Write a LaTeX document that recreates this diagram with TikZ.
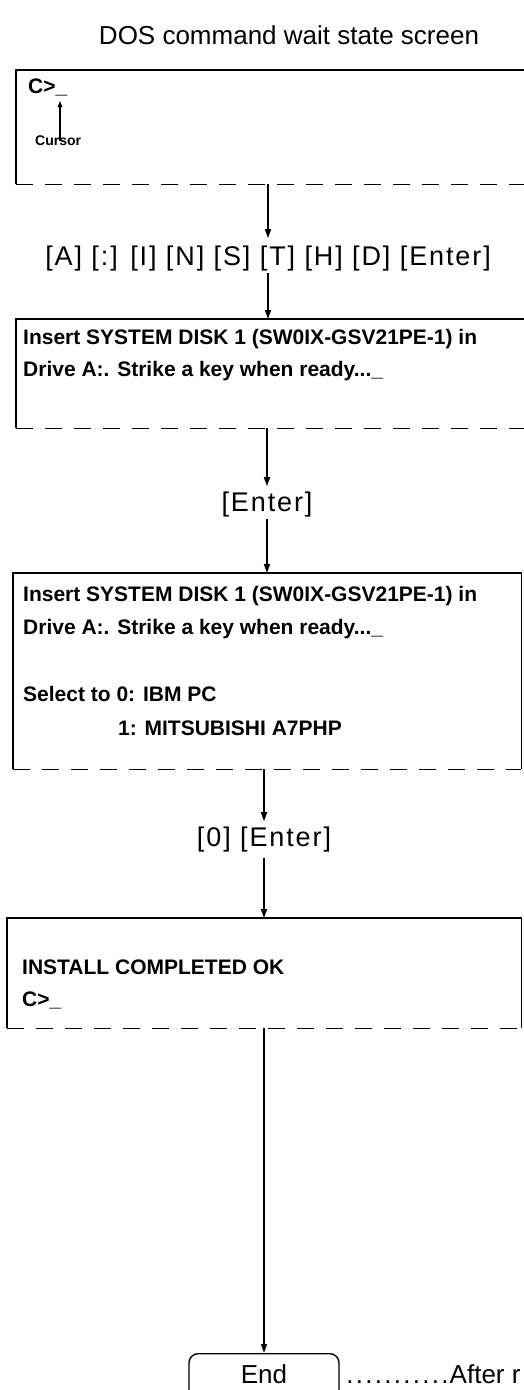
\documentclass[tikz,border=0pt]{standalone}
\usepackage{fontspec}
\setmainfont{Liberation Sans}
\newfontfamily\keyfont[LetterSpace=7]{Liberation Sans}
\usetikzlibrary{arrows.meta,calc}
\newcommand\mydotbox{\makebox[9.5pt][c]{.}}
\begin{document}
\begin{tikzpicture}[x=1pt,y=-1pt,
  scrbox/.style={draw=none, inner sep=0pt, anchor=north west},
  scrline/.style={line width=1.8pt},
  scrdash/.style={line width=1.6pt, dash pattern=on 17pt off 12pt},
  arr/.style={line width=1.6pt, -{Triangle[length=9pt,width=6pt]}},
  lab/.style={font=\fontsize{26}{30}\selectfont, inner sep=0pt, anchor=base},
  keylab/.style={font=\keyfont\fontsize{27}{30}\selectfont, inner sep=0pt, anchor=base},
  txt/.style={font=\bfseries\fontsize{21}{25}\selectfont, inner sep=0pt, anchor=base west},
]
\useasboundingbox (0,0) rectangle (524,1390);

% title
\node[lab] (title) at (289,44) {DOS command wait state screen};

% screen 1
\node[scrbox, minimum width=520pt, minimum height=114pt] (s1) at (16,70) {};
\draw[scrline] (s1.south west) -- (s1.north west) -- (s1.north east);
\draw[scrdash] (s1.south west) -- (s1.south east);
\node[txt] (c1) at (28,93) {C>\_};
\node[font=\bfseries\fontsize{14}{16}\selectfont, inner sep=0pt, anchor=base west] (cur) at (35,145) {Cursor};
\coordinate (curtip) at (60,101);
\draw[line width=1.1pt, -{Triangle[length=6pt,width=4.5pt]}] ([yshift=-6pt]cur.north -| curtip) -- (curtip);

% key label 1
\node[keylab] (k1) at (268,265) {[A] [:] [I] [N] [S] [T] [H] [D] [Enter]};
\draw[arr, shorten >=7pt] (k1.north |- s1.south) -- (k1.north);

% screen 2
\node[scrbox, minimum width=520pt, minimum height=109pt] (s2) at (16,319) {};
\draw[scrline] (s2.south west) -- (s2.north west) -- (s2.north east);
\draw[scrdash] (s2.south west) -- (s2.south east);
\draw[arr, shorten <=2pt] (k1.south) -- (k1.south |- s2.north);
\node[txt] (t21) at (23,344) {Insert SYSTEM DISK 1 (SW0IX-GSV21PE-1) in};
\node[txt] (t22) at (23,376) {Drive A:. Strike a key when ready...\_};

% key label 2
\node[keylab] (k2) at (267,511) {[Enter]};
\draw[arr, shorten >=5pt] (k2.north |- s2.south) -- (k2.north);

% screen 3
\node[scrbox, minimum width=508pt, minimum height=196pt] (s3) at (13,573) {};
\draw[scrline] (s3.south west) -- (s3.north west) -- (s3.north east) -- (s3.south east);
\draw[scrdash] (s3.south west) -- (s3.south east);
\draw[arr, shorten <=2pt] (k2.south) -- (k2.south |- s3.north);
\node[txt] (t31) at (23,601) {Insert SYSTEM DISK 1 (SW0IX-GSV21PE-1) in};
\node[txt] (t32) at (23,634) {Drive A:. Strike a key when ready...\_};
\node[txt] (t33) at (23,701) {Select to 0: IBM PC};
\node[txt] (t34) at (118,735) {1: MITSUBISHI A7PHP};

% key label 3
\node[keylab] (k3) at (264,846) {[0] [Enter]};
\draw[arr, shorten >=5pt] (k3.north |- s3.south) -- (k3.north);

% screen 4
\node[scrbox, minimum width=514pt, minimum height=110pt] (s4) at (7,918) {};
\draw[scrline] (s4.south west) -- (s4.north west) -- (s4.north east) -- (s4.south east);
\draw[scrdash] (s4.south west) -- (s4.south east);
\draw[arr, shorten <=6pt] (k3.south) -- (k3.south |- s4.north);
\node[txt] (t41) at (22,974) {INSTALL COMPLETED OK};
\node[txt] (t42) at (22,1006) {C>\_};

% end
\node[draw, line width=1.4pt, rounded corners=9pt, minimum width=150pt, inner xsep=0pt,
      inner ysep=11pt, text height=19pt, text depth=30pt, anchor=north,
      font=\fontsize{26}{30}\selectfont] (end) at (264,1353) {End};
\draw[arr] (end.north |- s4.south) -- (end.north);
\node[font=\fontsize{26}{30}\selectfont, inner sep=0pt, anchor=base west] (note) at (345,1383)
  {\mydotbox\mydotbox\mydotbox\mydotbox\mydotbox\mydotbox\mydotbox\mydotbox\mydotbox\mydotbox\mydotbox After r};
\end{tikzpicture}
\end{document}
